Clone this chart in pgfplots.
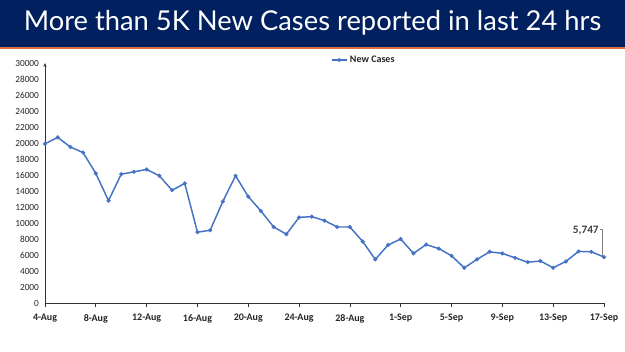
\documentclass[border=0pt]{standalone}
\usepackage{pgfplots}
\pgfplotsset{compat=1.18}
\usetikzlibrary{arrows.meta}
\usepackage{fontspec}
\setmainfont{Carlito}
\newfontfamily\titlefont{Lato}
\definecolor{banner}{RGB}{0,32,96}
\definecolor{orangeline}{RGB}{224,112,64}
\definecolor{series}{RGB}{68,114,196}
\pgfplotstableread{
x y
0 19900
1 20700
2 19500
3 18800
4 16200
5 12800
6 16100
7 16400
8 16700
9 15900
10 14100
11 14950
12 8850
13 9100
14 12700
15 15900
16 13300
17 11500
18 9500
19 8600
20 10700
21 10800
22 10300
23 9500
24 9500
25 7700
26 5450
27 7250
28 8000
29 6200
30 7300
31 6800
32 5900
33 4400
34 5450
35 6400
36 6200
37 5650
38 5100
39 5250
40 4400
41 5200
42 6450
43 6400
44 5747
}\cases
\begin{document}
\begin{tikzpicture}
\fill[white] (0,0) rectangle (468.75pt,-263.25pt);
\fill[banner] (0,0) rectangle (468.75pt,-35.25pt);
\fill[orangeline] (0,-35.25pt) rectangle (468.75pt,-36.75pt);
\node[anchor=base, text=white, inner sep=0pt, font=\titlefont\fontsize{20.5}{24}\selectfont] at (234.375pt,-22.5pt) {More than 5K New Cases reported in last 24 hrs};
\begin{axis}[
  at={(33.75pt,-227.25pt)}, anchor=south west,
  width=419.25pt, height=180pt, scale only axis,
  xmin=0, xmax=44, ymin=0, ymax=30000,
  axis x line*=bottom, axis y line*=left,
  y axis line style={-{Stealth[length=3pt,width=2.5pt]}},
  axis line style={black!80, line width=0.6pt},
  ytick={0,2000,...,30000},
  y tick style={draw=none},
  xtick={0,4,...,44},
  xticklabels={4-Aug,8-Aug,12-Aug,16-Aug,20-Aug,24-Aug,28-Aug,1-Sep,5-Sep,9-Sep,13-Sep,17-Sep},
  xtick align=outside,
  major tick length=3pt,
  x tick style={black!80, line width=0.6pt},
  tick label style={text=black!85},
  yticklabel style={font=\fontsize{7}{8}\selectfont, /pgf/number format/1000 sep={}, xshift=-1pt},
  xticklabel style={font=\bfseries\fontsize{7.5}{8}\selectfont, yshift=-2pt},
  /pgf/number format/assume math mode=true,
  scaled y ticks=false,
  clip=false,
  legend style={at={(0.571,1.0125)}, anchor=center, draw=none, fill=none, font=\bfseries\fontsize{7.5}{8}\selectfont, inner sep=1pt, text=black!85},
  legend image code/.code={\draw[mark repeat=2,mark phase=2,#1] plot coordinates {(0pt,0pt) (5.5pt,0pt) (11pt,0pt)};},
  legend cell align=left,
]
\addplot[series, line width=1.1pt, mark=*, mark size=0.9pt, mark options={fill=series, draw=series}] table[x=x,y=y] {\cases};
\addlegendentry{New Cases}
\draw[gray, line width=0.5pt] (axis cs:44,5747) -- ++(-1pt,0) -- ++(0,21pt) -- ++(-2pt,0);
\node[anchor=base east, inner sep=0pt, text=black!75, font=\bfseries\fontsize{8.5}{9}\selectfont] at (axis cs:44,5747) [xshift=-3.75pt, yshift=18pt] {5,747};
\end{axis}
\end{tikzpicture}
\end{document}
